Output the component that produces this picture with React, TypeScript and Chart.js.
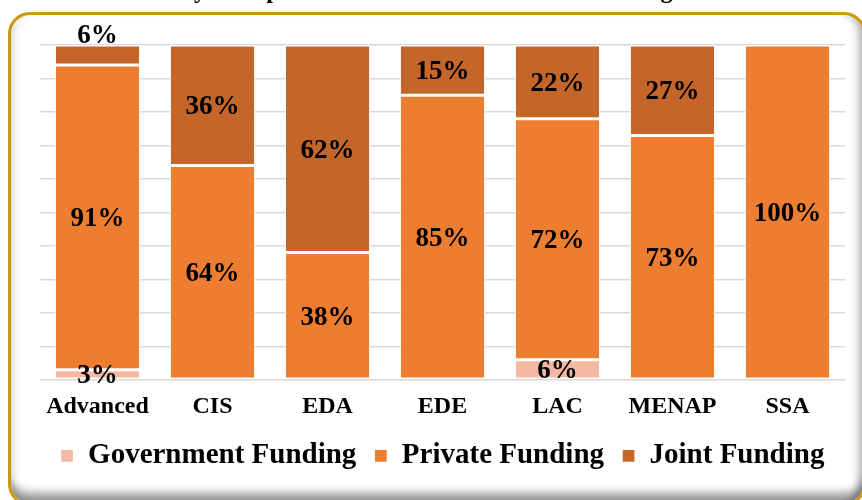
import React, { useEffect, useRef } from "react";
import { Chart, registerables } from "chart.js";

Chart.register(...registerables);

const categories = ["Advanced", "CIS", "EDA", "EDE", "LAC", "MENAP", "SSA"];
const governmentFunding = [3, 0, 0, 0, 6, 0, 0];
const privateFunding = [91, 64, 38, 85, 72, 73, 100];
const jointFunding = [6, 36, 62, 15, 22, 27, 0];
const yTicks = [0, 10, 20, 30, 40, 50, 60, 70, 80, 90, 100];

const SERIF = '"Liberation Serif", "Times New Roman", serif';

const labelPlugin = {
  id: "segmentLabels",
  afterDatasetsDraw(chart: any) {
    const ctx = chart.ctx;
    ctx.save();
    ctx.font = `bold 27px ${SERIF}`;
    ctx.fillStyle = "#000";
    ctx.textAlign = "center";
    ctx.textBaseline = "middle";
    const last = chart.data.datasets.length - 1;
    chart.data.datasets.forEach((ds: any, di: number) => {
      const meta = chart.getDatasetMeta(di);
      meta.data.forEach((el: any, i: number) => {
        const v = ds.data[i];
        if (!v) return;
        const { x, y, base } = el.getProps(["x", "y", "base"], true);
        const h = Math.abs(base - y);
        let ly = (y + base) / 2 + 2;
        if (di === last && h < 26) ly = Math.min(y, base) - 9;
        ctx.fillText(`${v}%`, x, ly);
      });
    });
    ctx.restore();
  },
};

export default function App() {
  const ref = useRef<HTMLCanvasElement | null>(null);

  useEffect(() => {
    if (!ref.current) return;
    const chart = new Chart(ref.current, {
      type: "bar",
      data: {
        labels: categories,
        datasets: [
          {
            label: "Government Funding",
            data: governmentFunding,
            backgroundColor: "#F4B9A2",
          },
          {
            label: "Private Funding",
            data: privateFunding,
            backgroundColor: "#ED7D31",
          },
          {
            label: "Joint Funding",
            data: jointFunding,
            backgroundColor: "#C4652A",
          },
        ].map((d) => ({
          ...d,
          borderColor: "#FFFFFF",
          borderWidth: { top: 1.5, bottom: 1.5, left: 1, right: 1 },
          borderSkipped: false,
          barPercentage: 0.74,
          categoryPercentage: 1,
        })),
      },
      options: {
        responsive: false,
        animation: false,
        devicePixelRatio: 1,
        layout: { padding: { left: 40, right: 17, top: 45, bottom: 19.6 } },
        scales: {
          x: {
            stacked: true,
            grid: { display: false, drawTicks: false },
            border: { display: false },
            ticks: {
              color: "#000",
              padding: 13,
              font: { family: SERIF, size: 24, weight: "bold" },
            },
            afterFit: (scale: any) => {
              scale.height = 43.6;
            },
          },
          y: {
            stacked: true,
            min: 0,
            max: 100,
            afterBuildTicks: (scale: any) => {
              scale.ticks = yTicks.map((v) => ({ value: v }));
            },
            grid: { color: "#D9D9D9", lineWidth: 1.5, drawTicks: false },
            border: { display: false },
            ticks: { display: false },
          },
        },
        plugins: {
          legend: {
            position: "bottom",
            labels: {
              color: "#000",
              boxWidth: 13,
              boxHeight: 13,
              padding: 18,
              font: { family: SERIF, size: 29, weight: "bold" },
            },
          },
          tooltip: { enabled: false },
          title: { display: false },
        },
      },
      plugins: [labelPlugin],
    } as any);
    return () => chart.destroy();
  }, []);

  return (
    <div
      style={{
        position: "fixed",
        left: 0,
        top: 0,
        width: 862,
        height: 500,
        overflow: "hidden",
        background: "#fff",
      }}
    >
      <div
        style={{
          position: "absolute",
          left: 115,
          top: -22,
          whiteSpace: "nowrap",
          font: `bold 24px ${SERIF}`,
          lineHeight: "24px",
          color: "#000",
        }}
      >
        Share by Group of Infrastructure Investment Funding
      </div>
      <div
        style={{
          position: "absolute",
          left: 8,
          top: 12,
          width: 858,
          height: 494,
          boxSizing: "border-box",
          border: "3px solid #C9990B",
          borderRadius: 22,
          background: "#fff",
          boxShadow:
            "inset 0 -16px 10px -6px rgba(0,0,0,0.42), inset -10px 0 8px -6px rgba(0,0,0,0.32), inset 9px 0 8px -6px rgba(0,0,0,0.12)",
        }}
      />
      <canvas
        ref={ref}
        width={862}
        height={500}
        style={{ position: "absolute", left: 0, top: 0, width: 862, height: 500 }}
      />
    </div>
  );
}
